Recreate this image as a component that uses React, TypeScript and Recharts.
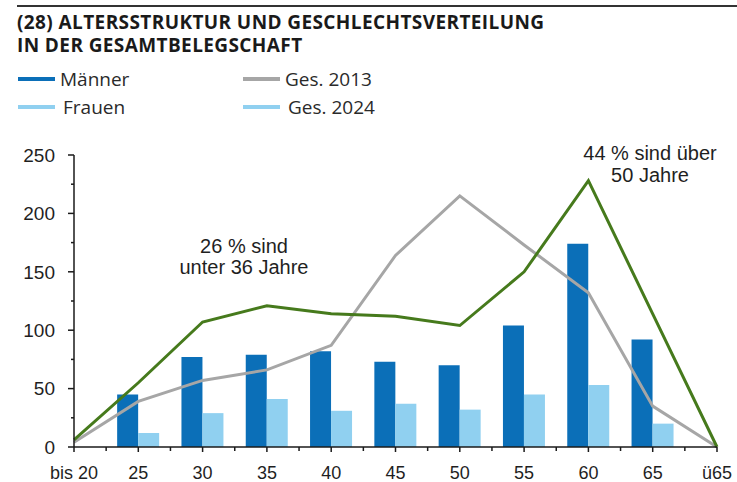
import React from "react";
import {
  ComposedChart,
  Bar,
  Line,
  XAxis,
  YAxis,
} from "recharts";

const categories = ["bis 20", "25", "30", "35", "40", "45", "50", "55", "60", "65", "ü65"];
const maenner = [0, 45, 77, 79, 82, 73, 70, 104, 174, 92, 0];
const frauen = [0, 12, 29, 41, 31, 37, 32, 45, 53, 20, 0];
const ges2013 = [4, 39, 57, 66, 87, 164, 215, 173, 132, 35, 0];
const ges2024 = [6, 55, 107, 121, 114, 112, 104, 150, 228, 114, 0];
const yTicks = [0, 25, 50, 75, 100, 125, 150, 175, 200, 225, 250];

const data = categories.map((c, i) => ({
  cat: c,
  maenner: maenner[i],
  frauen: frauen[i],
  ges2013: ges2013[i],
  ges2024: ges2024[i],
}));

const C_MAENNER = "#0b6fb8";
const C_FRAUEN = "#90d0f0";
const C_2013 = "#a6a6a6";
const C_2024 = "#467a1c";
const AXIS = "#1a1a1a";
const TEXT = "#1f1f1f";
const SANS = "'Liberation Sans', Arial, sans-serif";
const TITLE_FONT = "'Open Sans', 'Noto Sans', sans-serif";

const CHART_W = 737;
const CHART_H = 482;
const PLOT_LEFT = 74;
const PLOT_RIGHT = 717;
const HALF_STEP = (PLOT_RIGHT - PLOT_LEFT) / (categories.length - 1) / 2;

function YTick(props: { x?: number; y?: number; payload?: { value: number } }) {
  const { x = 0, y = 0, payload } = props;
  const v = payload?.value ?? 0;
  const major = v % 50 === 0;
  return (
    <g>
      <line x1={x - (major ? 6 : 3)} x2={x} y1={y} y2={y} stroke={AXIS} strokeWidth={1.5} />
      {major && (
        <text x={x - 19} y={y} dy="0.36em" textAnchor="end" fontSize={19} fill={TEXT} fontFamily={SANS}>
          {v}
        </text>
      )}
    </g>
  );
}

function XTick(props: { x?: number; y?: number; index?: number; payload?: { value: string } }) {
  const { x = 0, y = 0, index = 0, payload } = props;
  const last = index === categories.length - 1;
  return (
    <g>
      <line x1={x} x2={x} y1={y} y2={y + 5} stroke={AXIS} strokeWidth={1.5} />
      {!last && <line x1={x + HALF_STEP} x2={x + HALF_STEP} y1={y} y2={y + 4} stroke={AXIS} strokeWidth={1.5} />}
      <text x={x} y={y + 32} textAnchor="middle" fontSize={18} fill={TEXT} fontFamily={SANS}>
        {payload?.value}
      </text>
    </g>
  );
}

function LegendItem({ color, label, left, top, gap }: { color: string; label: string; left: number; top: number; gap: number }) {
  return (
    <div style={{ position: "absolute", left, top, display: "flex", alignItems: "center" }}>
      <span style={{ width: 37, height: 4, background: color, display: "inline-block" }} />
      <span style={{ marginLeft: gap, fontSize: 19, color: "#2a2a2a", fontFamily: TITLE_FONT, lineHeight: "20px" }}>
        {label}
      </span>
    </div>
  );
}

const titleStyle: React.CSSProperties = {
  position: "absolute",
  left: 17,
  fontFamily: TITLE_FONT,
  fontWeight: 700,
  fontSize: 19,
  letterSpacing: 0.4,
  lineHeight: "19px",
  color: "#1a1a1a",
  whiteSpace: "nowrap",
};

export default function App() {
  return (
    <div style={{ position: "absolute", left: 0, top: 0, width: CHART_W, height: CHART_H, background: "#fff", overflow: "hidden" }}>
      <div style={{ position: "absolute", left: 17, right: 0, top: 5, height: 2, background: "#333" }} />
      <div style={{ ...titleStyle, top: 13 }}>(28) ALTERSSTRUKTUR UND GESCHLECHTSVERTEILUNG</div>
      <div style={{ ...titleStyle, top: 36 }}>IN DER GESAMTBELEGSCHAFT</div>

      <LegendItem color={C_MAENNER} label="Männer" left={18} top={69} gap={5} />
      <LegendItem color={C_FRAUEN} label="Frauen" left={18} top={97} gap={8} />
      <LegendItem color={C_2013} label="Ges. 2013" left={243} top={69} gap={5} />
      <LegendItem color={C_FRAUEN} label="Ges. 2024" left={243} top={97} gap={8} />

      <div style={{ position: "absolute", left: 154, top: 236, width: 180, textAlign: "center", fontFamily: SANS, fontSize: 20, lineHeight: "21px", color: TEXT }}>
        26 % sind
        <br />
        unter 36 Jahre
      </div>
      <div style={{ position: "absolute", left: 560, top: 142, width: 180, textAlign: "center", fontFamily: SANS, fontSize: 20, lineHeight: "22px", color: TEXT }}>
        44 % sind über
        <br />
        50 Jahre
      </div>

      <div style={{ position: "absolute", left: 0, top: 0 }}>
        <ComposedChart
          width={CHART_W}
          height={CHART_H}
          data={data}
          barSize={21}
          barGap={0}
          margin={{ top: 155, right: CHART_W - PLOT_RIGHT, bottom: 5, left: 14 }}
        >
          <XAxis
            dataKey="cat"
            padding={{ left: -HALF_STEP, right: -HALF_STEP }}
            axisLine={{ stroke: AXIS, strokeWidth: 1.5 }}
            tickLine={false}
            tickSize={0}
            tickMargin={0}
            height={30}
            interval={0}
            tick={<XTick />}
          />
          <YAxis
            type="number"
            domain={[0, 250]}
            ticks={yTicks}
            interval={0}
            width={60}
            axisLine={{ stroke: AXIS, strokeWidth: 1.5 }}
            tickLine={false}
            tickSize={0}
            tickMargin={0}
            tick={<YTick />}
          />
          <Bar dataKey="maenner" fill={C_MAENNER} isAnimationActive={false} />
          <Bar dataKey="frauen" fill={C_FRAUEN} isAnimationActive={false} />
          <Line dataKey="ges2013" type="linear" stroke={C_2013} strokeWidth={3} dot={false} isAnimationActive={false} />
          <Line dataKey="ges2024" type="linear" stroke={C_2024} strokeWidth={3} dot={false} isAnimationActive={false} />
        </ComposedChart>
      </div>
    </div>
  );
}
